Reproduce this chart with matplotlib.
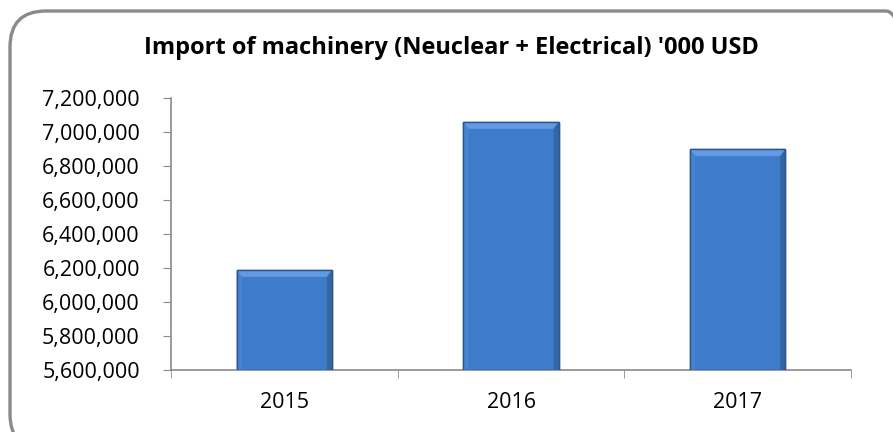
import matplotlib.pyplot as plt
import numpy as np
from matplotlib.patches import FancyBboxPatch, Polygon
from matplotlib.ticker import FuncFormatter

years = ['2015', '2016', '2017']
imports = [6188000, 7059000, 6898000]

W, H = 893, 432
fig = plt.figure(figsize=(W / 100, H / 100), dpi=100)
ax = fig.add_axes([171 / W, 1 - 370 / H, 680 / W, 272 / H])

# rounded outer border (runs off the right and bottom edges, as in the source)
border = FancyBboxPatch((10, -18), 912, 439,
                        boxstyle='round,pad=0,rounding_size=36',
                        transform=None, fill=False,
                        edgecolor='#8a8a8a', linewidth=2.4)
fig.patches.append(border)

x = np.arange(len(years))
bw = 0.42
bars = ax.bar(x, imports, width=bw, color='#3e7bca', edgecolor='#2a5590',
              linewidth=1.0, zorder=3)

# soft bevel on each bar
dx = 0.022
dy = 40000
base = 5600000
for b in bars:
    x0, x1 = b.get_x(), b.get_x() + b.get_width()
    top = b.get_height()
    faces = [
        ([(x0, top), (x1, top), (x1 - dx, top - dy), (x0 + dx, top - dy)], '#629ae3'),
        ([(x0, top), (x0 + dx, top - dy), (x0 + dx, base), (x0, base)], '#4683d1'),
        ([(x1, top), (x1 - dx, top - dy), (x1 - dx, base), (x1, base)], '#34679f'),
    ]
    for pts, c in faces:
        ax.add_patch(Polygon(pts, closed=True, facecolor=c, edgecolor='none', zorder=4))
    ax.add_patch(Polygon([(x0, top), (x1, top), (x1, base), (x0, base)], closed=True,
                         fill=False, edgecolor='#2a5590', linewidth=1.0, zorder=5))

ax.set_ylim(5600000, 7200000)
ax.set_yticks(np.arange(5600000, 7200001, 200000))
ax.yaxis.set_major_formatter(FuncFormatter(lambda v, p: f'{int(v):,}'))
ax.set_xlim(-0.5, 2.5)
ax.set_xticks(x)
ax.set_xticklabels(years)
ax.set_xticks([-0.5, 0.5, 1.5, 2.5], minor=True)
ax.tick_params(axis='x', which='major', length=0, pad=16, labelsize=15.5)
ax.tick_params(axis='x', which='minor', length=5.5, color='#8a8a8a', direction='out')
ax.tick_params(axis='y', length=5.5, color='#8a8a8a', labelsize=15.5, pad=17)

for s in ['top', 'right']:
    ax.spines[s].set_visible(False)
for s in ['left', 'bottom']:
    ax.spines[s].set_color('#8a8a8a')
    ax.spines[s].set_linewidth(1.2)

for lbl in ax.get_xticklabels() + ax.get_yticklabels():
    lbl.set_family(['Open Sans', 'DejaVu Sans'])

fig.text(0.506, 1 - 48 / H, "Import of machinery (Neuclear + Electrical) '000 USD",
         ha='center', va='center', fontsize=17, fontweight='bold',
         family=['Open Sans', 'DejaVu Sans'])

fig.savefig('out.png', dpi=100)
